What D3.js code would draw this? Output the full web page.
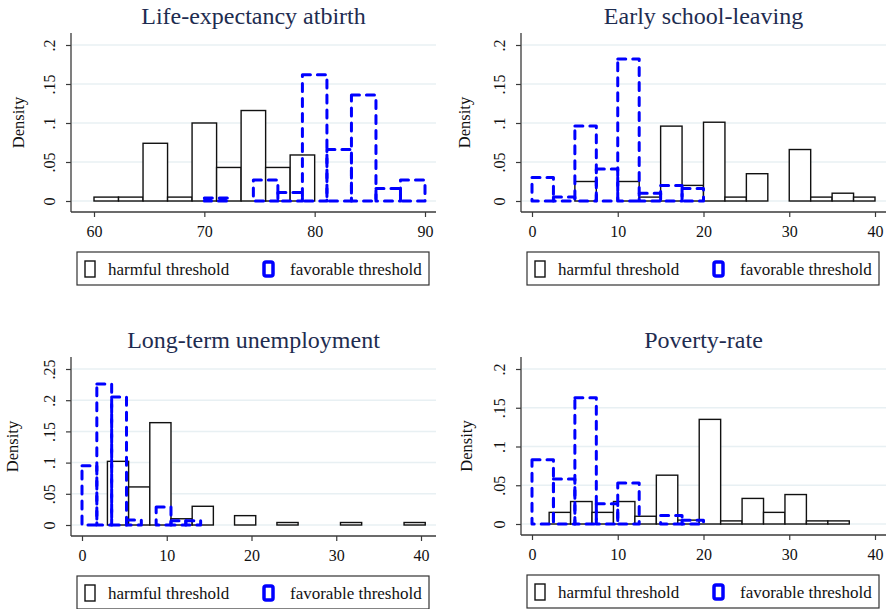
<!DOCTYPE html>
<html lang="en">
<head>
  <meta charset="UTF-8">
  <title>Harmful vs favorable thresholds</title>
  <script src="https://d3js.org/d3.v7.min.js"></script>
  <style>
    body { margin: 0; background: #fff; }
    svg text { font-family: 'Liberation Serif', 'Times New Roman', serif; }
    .title { fill: #1e2c50; font-size: 24px; text-anchor: middle; }
    .ylab { fill: #111; font-size: 16.5px; text-anchor: middle; }
    .grid { stroke: #e8f0f3; stroke-width: 1.5px; }
    .axisline { stroke: #3a3a3a; stroke-width: 1.3px; }
    .harmful { fill: #fff; stroke: #111; stroke-width: 1.4px; }
    .favorable { fill: none; stroke: #0000ff; stroke-width: 3px;
                 stroke-dasharray: 8 7; stroke-linecap: round; stroke-linejoin: round; }
    .legend-box { fill: #fff; stroke: #333; stroke-width: 1.2px; }
    .legend-text { fill: #111; font-size: 17px; }
  </style>
</head>
<body>
  <svg id="chart" width="888" height="609"></svg>

  <script>
    // ---- data (densities) ----
    const titles = ["Life-expectancy atbirth", "Early school-leaving", "Long-term unemployment", "Poverty-rate"];
    const legendLabels = ["harmful threshold", "favorable threshold"];

    // life expectancy: harmful bins start at 60, favorable at 70 (width 20/9)
    const lifeHarmful = [0.005, 0.005, 0.074, 0.005, 0.100, 0.043, 0.116, 0.043, 0.059];
    const lifeFavorable = [0.004, 0, 0.027, 0.011, 0.162, 0.066, 0.136, 0.016, 0.027];
    // early school-leaving: harmful from 5, favorable from 0 (width 2.5)
    const schoolHarmful = [0.025, 0, 0.025, 0.005, 0.096, 0.020, 0.101, 0.005, 0.035, 0, 0.066, 0.005, 0.010, 0.005];
    const schoolFavorable = [0.030, 0.005, 0.096, 0.041, 0.182, 0.010, 0.020, 0.016];
    // long-term unemployment: harmful from 3 (width 2.5), favorable from 0 (width 1.75)
    const unempHarmful = [0.102, 0.061, 0.164, 0.010, 0.030, 0, 0.015, 0, 0.004, 0, 0, 0.004, 0, 0, 0.004];
    const unempFavorable = [0.095, 0.226, 0.205, 0.008, 0, 0.029, 0.007, 0.007];
    // poverty rate: harmful from 2, favorable from 0 (width 2.5)
    const povertyHarmful = [0.015, 0.029, 0.015, 0.029, 0.010, 0.063, 0.005, 0.135, 0.004, 0.033, 0.015, 0.038, 0.004, 0.004];
    const povertyFavorable = [0.083, 0.058, 0.163, 0.026, 0.053, 0, 0.011, 0.005];

    const binStarts = [[60, 70], [5, 0], [3, 0], [2, 0]];
    const binWidths = [[20 / 9, 20 / 9], [2.5, 2.5], [2.5, 1.75], [2.5, 2.5]];

    const xTicks = [[60, 70, 80, 90], [0, 10, 20, 30, 40], [0, 10, 20, 30, 40], [0, 10, 20, 30, 40]];
    const yTicks = [[0, 0.05, 0.1, 0.15, 0.2], [0, 0.05, 0.1, 0.15, 0.2],
                    [0, 0.05, 0.1, 0.15, 0.2, 0.25], [0, 0.05, 0.1, 0.15, 0.2]];

    // ---- layout of the four panels ----
    const boxes = [
      { left: 71, right: 436, top: 33, bottom: 212, x0: 94, x1: 425, ylab: 24 },
      { left: 521, right: 886, top: 33, bottom: 212, x0: 532, x1: 875, ylab: 470 },
      { left: 71, right: 436, top: 357, bottom: 536, x0: 82, x1: 421, ylab: 18 },
      { left: 521, right: 886, top: 357, bottom: 535, x0: 532, x1: 875, ylab: 472 }
    ];

    const series = [
      [lifeHarmful, lifeFavorable],
      [schoolHarmful, schoolFavorable],
      [unempHarmful, unempFavorable],
      [povertyHarmful, povertyFavorable]
    ];

    const svg = d3.select('#chart');
    const fmt = d => d === 0 ? '0' : String(d).replace(/^0/, '');

    boxes.forEach((b, p) => {
      const g = svg.append('g');
      const xd = xTicks[p];
      const yd = yTicks[p];

      const x = d3.scaleLinear().domain([xd[0], xd[xd.length - 1]]).range([b.x0, b.x1]);
      const y = d3.scaleLinear().domain([0, yd[yd.length - 1]]).range([b.bottom - 11, b.top + 12]);

      // gridlines
      g.selectAll('.grid').data(yd).enter().append('line')
        .attr('class', 'grid')
        .attr('x1', b.left + 1).attr('x2', b.right)
        .attr('y1', d => y(d)).attr('y2', d => y(d));

      // histogram bars
      const bars = (vals, k, cls) => {
        const start = binStarts[p][k], w = binWidths[p][k];
        g.selectAll('.' + cls).data(vals).enter().append('rect')
          .attr('class', cls)
          .attr('x', (d, i) => x(start + i * w))
          .attr('width', (d, i) => x(start + (i + 1) * w) - x(start + i * w))
          .attr('y', d => y(d))
          .attr('height', d => y(0) - y(d));
      };
      bars(series[p][0], 0, 'harmful');
      bars(series[p][1], 1, 'favorable');

      // y axis
      const ya = g.append('g')
        .attr('transform', `translate(${b.left},0)`)
        .call(d3.axisLeft(y).tickValues(yd).tickFormat(fmt).tickSize(5).tickSizeOuter(0));
      ya.select('.domain').remove();
      ya.selectAll('line').attr('stroke', '#3a3a3a').attr('stroke-width', 1.2);
      ya.selectAll('text')
        .attr('x', null).attr('dy', null)
        .attr('text-anchor', 'middle')
        .attr('transform', 'translate(-16,0) rotate(-90)')
        .style('font-size', '16px').attr('fill', '#111');

      // x axis
      const xa = g.append('g')
        .attr('transform', `translate(0,${b.bottom})`)
        .call(d3.axisBottom(x).tickValues(xd).tickSize(5).tickPadding(9).tickSizeOuter(0));
      xa.select('.domain').remove();
      xa.selectAll('line').attr('stroke', '#3a3a3a').attr('stroke-width', 1.2);
      xa.selectAll('text').style('font-size', '16px').attr('fill', '#111');

      // axis lines across the plot region
      g.append('line').attr('class', 'axisline')
        .attr('x1', b.left).attr('x2', b.left).attr('y1', b.top).attr('y2', b.bottom);
      g.append('line').attr('class', 'axisline')
        .attr('x1', b.left).attr('x2', b.right).attr('y1', b.bottom).attr('y2', b.bottom);

      // title and axis label
      g.append('text').attr('class', 'title')
        .attr('x', (b.left + b.right) / 2).attr('y', b.top - 9)
        .text(titles[p]);
      g.append('text').attr('class', 'ylab')
        .attr('transform', `translate(${b.ylab},${(b.top + b.bottom) / 2}) rotate(-90)`)
        .text('Density');

      // legend
      const lx = b.left + 6, ly = b.bottom + 40;
      const lg = g.append('g').attr('transform', `translate(${lx},${ly})`);
      lg.append('rect').attr('class', 'legend-box')
        .attr('width', b.right - 7 - lx).attr('height', 33);
      lg.append('rect').attr('class', 'harmful')
        .attr('x', 8).attr('y', 9).attr('width', 10).attr('height', 16);
      lg.append('text').attr('class', 'legend-text').attr('x', 31).attr('y', 23).text(legendLabels[0]);
      lg.append('rect')
        .attr('x', 187).attr('y', 10).attr('width', 9).attr('height', 14).attr('rx', 2)
        .attr('fill', 'none').attr('stroke', '#0000ff').attr('stroke-width', 3.5);
      lg.append('text').attr('class', 'legend-text').attr('x', 213).attr('y', 23).text(legendLabels[1]);
    });
  </script>
</body>
</html>
